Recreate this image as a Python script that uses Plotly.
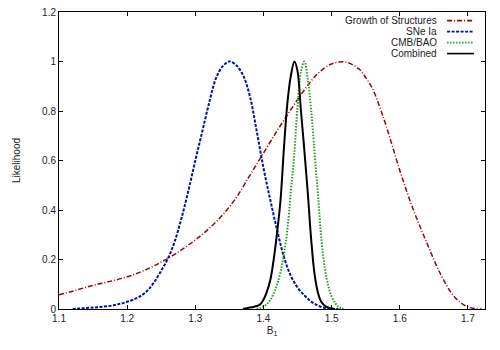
import plotly.graph_objects as go

# ---- data ----
growth_x = [1.10, 1.12, 1.14, 1.16, 1.18, 1.20, 1.22, 1.24, 1.26, 1.28, 1.30, 1.32, 1.34, 1.36,
            1.38, 1.40, 1.42, 1.44, 1.46, 1.48, 1.50, 1.52, 1.54, 1.55, 1.56, 1.57, 1.58, 1.60,
            1.62, 1.64, 1.66, 1.68, 1.70, 1.72]
growth_y = [0.057, 0.072, 0.088, 0.102, 0.115, 0.13, 0.15, 0.175, 0.205, 0.24, 0.279, 0.325, 0.38, 0.45,
            0.54, 0.63, 0.72, 0.805, 0.885, 0.952, 0.99, 0.998, 0.97, 0.935, 0.89, 0.82, 0.74, 0.56,
            0.40, 0.265, 0.14, 0.05, 0.008, 0.0]

sne_x = [1.12, 1.13, 1.14, 1.15, 1.16, 1.17, 1.18, 1.19, 1.20, 1.21, 1.22, 1.23, 1.24, 1.25, 1.26,
         1.27, 1.28, 1.29, 1.30, 1.31, 1.32, 1.33, 1.34, 1.35, 1.36, 1.37, 1.38, 1.39, 1.40, 1.41,
         1.42, 1.43, 1.44, 1.45, 1.46, 1.47, 1.48, 1.49, 1.50, 1.51]
sne_y = [0.0, 0.002, 0.004, 0.006, 0.008, 0.011, 0.015, 0.021, 0.029, 0.039, 0.053, 0.075, 0.11, 0.155, 0.205,
         0.275, 0.37, 0.48, 0.6, 0.715, 0.83, 0.93, 0.98, 1.0, 0.985, 0.945, 0.86, 0.72, 0.57, 0.44,
         0.319, 0.21, 0.135, 0.087, 0.055, 0.03, 0.014, 0.004, 0.001, 0.0]

cmb_x = [1.390, 1.395, 1.400, 1.405, 1.410, 1.415, 1.420, 1.425, 1.430, 1.435, 1.440, 1.445, 1.450,
         1.455, 1.460, 1.465, 1.470, 1.475, 1.480, 1.485, 1.490, 1.495, 1.500, 1.505, 1.510, 1.515, 1.520]
cmb_y = [0.0, 0.004, 0.01, 0.02, 0.036, 0.063, 0.1, 0.15, 0.22, 0.32, 0.47, 0.62, 0.82,
         0.96, 1.0, 0.93, 0.8, 0.63, 0.46, 0.28, 0.165, 0.095, 0.05, 0.025, 0.008, 0.002, 0.0]

comb_x = [1.370, 1.375, 1.380, 1.385, 1.390, 1.395, 1.400, 1.405, 1.410, 1.415, 1.420, 1.425, 1.430,
          1.435, 1.440, 1.4455, 1.450, 1.455, 1.460, 1.465, 1.470, 1.475, 1.480, 1.485, 1.490, 1.495,
          1.500, 1.505]
comb_y = [0.0, 0.003, 0.006, 0.008, 0.012, 0.018, 0.037, 0.07, 0.117, 0.2, 0.31, 0.44, 0.65,
          0.83, 0.94, 1.0, 0.96, 0.8, 0.64, 0.47, 0.28, 0.14, 0.065, 0.028, 0.013, 0.006,
          0.002, 0.0]

series_names = ["Growth of Structures", "SNe Ia", "CMB/BAO", "Combined"]
x_ticks = [1.1, 1.2, 1.3, 1.4, 1.5, 1.6, 1.7]
y_ticks = [0, 0.2, 0.4, 0.6, 0.8, 1, 1.2]

colors = ["#a00000", "#0010a0", "#20a020", "#000000"]
dashes = ["5px,2px,1px,2px", "3px,1.5px", "1.5px,1.5px", "solid"]
widths = [1.5, 2, 2, 2]

FONT = "Liberation Sans, Arial, sans-serif"

fig = go.Figure()
data = [(growth_x, growth_y), (sne_x, sne_y), (cmb_x, cmb_y), (comb_x, comb_y)]
for (xs, ys), name, c, d, w in zip(data, series_names, colors, dashes, widths):
    fig.add_trace(go.Scatter(x=xs, y=ys, mode="lines", name=name,
                             line=dict(color=c, dash=d, width=w, shape="spline", smoothing=1.0),
                             showlegend=False, hoverinfo="skip"))

# gnuplot-style key: text right aligned, sample to the right
row_y = [0.971, 0.934, 0.897, 0.860]
for name, c, d, w, yy in zip(series_names, colors, dashes, widths, row_y):
    fig.add_annotation(x=0.892, y=yy, xref="paper", yref="paper", text=name,
                       showarrow=False, xanchor="right", yanchor="middle",
                       font=dict(family=FONT, size=10, color="#222"))
    fig.add_shape(type="line", xref="paper", yref="paper", x0=0.911, x1=0.974, y0=yy, y1=yy,
                  line=dict(color=c, dash=d, width=1.6))

axis_common = dict(showline=True, linecolor="black", linewidth=1, mirror="allticks",
                   ticks="inside", ticklen=4, tickcolor="black", showgrid=False, zeroline=False,
                   automargin=False, ticklabeloverflow="allow",
                   tickfont=dict(family=FONT, size=10, color="#222"))

fig.update_xaxes(range=[1.1, 1.725], tickvals=x_ticks, ticktext=[str(v) for v in x_ticks],
                 title=dict(text="B<sub>1</sub>", font=dict(family=FONT, size=10, color="#222"), standoff=3),
                 **axis_common)
fig.update_yaxes(range=[0, 1.2], tickvals=y_ticks, ticktext=[str(v) for v in y_ticks],
                 title=dict(text="Likelihood", font=dict(family=FONT, size=10, color="#222"), standoff=19),
                 **axis_common)

fig.update_layout(width=492, height=342, margin=dict(l=51, r=15, t=4, b=41),
                  plot_bgcolor="white", paper_bgcolor="white")

fig.write_html("out.html")
